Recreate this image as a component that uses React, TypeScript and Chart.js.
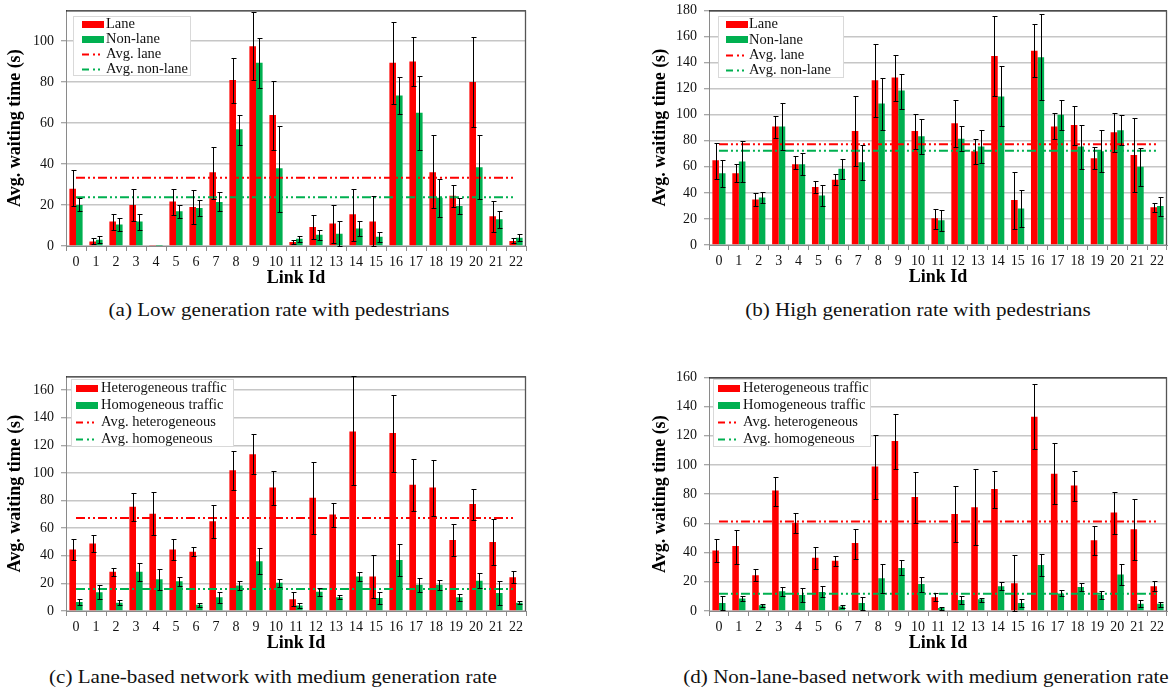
import React, { useEffect, useRef } from 'react';
import { Chart, registerables } from 'chart.js';

Chart.register(...registerables);

const SERIF = "'Liberation Serif', 'Times New Roman', serif";
Chart.defaults.font.family = SERIF;

// ---------- data ----------
const linkIds = ['0','1','2','3','4','5','6','7','8','9','10','11','12','13','14','15','16','17','18','19','20','21','22'];

// (a) low generation rate with pedestrians
const aLane = [28, 2.2, 12, 20, 0.3, 21.7, 19, 36, 81, 97.5, 64, 2, 9.3, 11, 15.5, 12, 89.5, 90, 36, 24.5, 80, 14.5, 2.5];
const aLaneHi = [37, 4, 15.5, 28, null, 28, 27.5, 48.5, 92, 114, 80.5, 3, 15, 20, 28, 24.5, 109.5, 102, 54, 30, 102, 22, 4];
const aLaneLo = [19.5, 1, 8, 12, null, 15, 10.5, 23, 70, 81, 47, 1, 3.5, 1.5, 2.5, 0, 69.5, 78, 18.5, 19, 58, 7, 1.5];
const aNonLane = [20, 3, 10.5, 12, 0.1, 17, 18.5, 21.5, 57, 89.5, 38, 3.5, 5.5, 6, 8.5, 4.5, 73.5, 65, 23.5, 19.5, 38.5, 13, 4];
const aNonLaneHi = [23.5, 5, 13.5, 15.5, null, 20, 22.5, 26.5, 64, 101.5, 58.5, 5, 8, 12, 12, 7, 82.5, 83, 32.5, 23.5, 54, 17, 6];
const aNonLaneLo = [17, 1.5, 7.5, 8, null, 13.5, 14.5, 17, 49.5, 77, 16.5, 2, 3, 0, 5, 2, 64.5, 47, 14, 15.5, 23, 9, 2.5];
const aAvgLane = 33.3;
const aAvgNonLane = 23.8;

// (b) high generation rate with pedestrians
const bLane = [65, 55, 35, 91, 62, 44.5, 50, 87.5, 126.5, 128.5, 87.5, 20.5, 93.5, 72, 145, 34.5, 149, 91, 92, 66.5, 86.5, 69, 29];
const bLaneHi = [78, 62.5, 40, 99, 68, 49, 54.5, 114, 154, 146, 100.5, 28, 111.5, 81.5, 176, 56, 169.5, 101.5, 106.5, 75, 101, 97.5, 32.5];
const bLaneLo = [51, 48, 30, 82, 58, 40, 46, 60.5, 98.5, 110.5, 73.5, 12, 75.5, 62.5, 114.5, 12.5, 129, 81, 77, 58, 71.5, 40.5, 25.5];
const bNonLane = [55, 64, 36.5, 91, 62, 38, 58.5, 63.5, 108.5, 118.5, 83.5, 19, 81.5, 75.5, 114, 28, 144, 100, 75.5, 72, 88, 60, 30];
const bNonLaneHi = [65.5, 79.5, 41, 109, 70.5, 46, 66, 76.5, 128.5, 131.5, 97, 26.5, 91, 88, 137, 42.5, 177, 111.5, 92, 88, 99.5, 74.5, 37];
const bNonLaneLo = [44.5, 48, 32, 73, 54, 30, 51, 50, 88.5, 104.5, 69.5, 11, 72, 63, 91, 13.5, 111, 88.5, 58, 56, 76.5, 45.5, 22.5];
const bAvgLane = 77.3;
const bAvgNonLane = 72.3;

// (c) lane-based network, medium generation rate
const cHet = [44.5, 49, 28.5, 75.5, 70.5, 44.5, 43, 65, 102, 113.5, 89.5, 8.5, 82, 70, 130, 25, 129, 91.5, 89.5, 51.5, 77.5, 50, 24.5];
const cHetHi = [52, 55, 31.5, 85.5, 86, 52, 46.5, 77, 116, 128, 101.5, 13.5, 108, 78.5, 170, 40.5, 156.5, 110.5, 109.5, 63, 88.5, 67, 29];
const cHetLo = [37, 43, 25.5, 65.5, 55, 37, 39.5, 53, 87.5, 99, 77, 3.5, 56, 61, 91, 9.5, 101, 72.5, 68.5, 40, 66, 33, 20];
const cHom = [6.5, 13.5, 6, 28.5, 23, 21.5, 4.5, 10, 18.5, 36, 20.5, 4, 14, 10, 25, 9.5, 37, 19, 19, 10, 22, 13, 6];
const cHomHi = [9, 18.5, 8, 35, 30.5, 25, 6, 14, 22, 45.5, 23.5, 5.5, 16.5, 11.5, 28.5, 13.5, 48.5, 24, 22.5, 12.5, 27.5, 21.5, 7];
const cHomLo = [4, 8.5, 4, 22, 15.5, 18, 3, 6, 15, 26.5, 17.5, 2.5, 11, 8.5, 21.5, 5, 25.5, 13.5, 15, 7.5, 16.5, 4.5, 5];
const cAvgHet = 67.4;
const cAvgHom = 16;

// (d) non-lane-based network, medium generation rate
const dHet = [41.5, 44.5, 24.5, 82.5, 60.5, 36.5, 34.5, 46.5, 99, 116.5, 78, 9.5, 66.5, 71, 83.5, 19, 133, 94, 86, 48.5, 67.5, 56, 17];
const dHetHi = [49, 55.5, 29, 92, 67, 43.5, 37.5, 56, 120.5, 135, 95, 12, 85.5, 97, 96, 38.5, 155.5, 115, 96, 58.5, 81.5, 76.5, 20.5];
const dHetLo = [33.5, 32.5, 20.5, 72, 53.5, 28.5, 31, 35.5, 77, 97, 60.5, 7, 47, 45, 70.5, 0, 111, 73, 75.5, 38.5, 52.5, 35, 13.5];
const dHom = [5.5, 8.5, 4, 13.5, 11, 13, 3, 5.5, 22.5, 29.5, 18.5, 2, 7.5, 8, 17, 5.5, 31.5, 12, 16.5, 11, 25, 5, 5];
const dHomHi = [10, 10, 4.5, 16.5, 16, 17, 4, 9.5, 32.5, 35, 23.5, 2.5, 10.5, 9, 20, 8, 39, 14.5, 19.5, 14, 32.5, 7.5, 6.5];
const dHomLo = [0.5, 7, 3, 10.5, 6.5, 9.5, 2, 1, 12, 24.5, 13, 1, 4.5, 6.5, 14.5, 3, 24, 10, 13.5, 8.5, 17.5, 3, 3];
const dAvgHet = 61.3;
const dAvgHom = 11.9;

const pedNames = ['Lane', 'Non-lane', 'Avg. lane', 'Avg. non-lane'];
const trafficNames = ['Heterogeneous traffic', 'Homogeneous traffic', 'Avg. heterogeneous', 'Avg. homogeneous'];
const yTitle = 'Avg. waiting time (s)';
const xTitle = 'Link Id';

// ---------- styles ----------
const RED = '#ff0000';
const GREEN = '#00b050';
const AXIS = '#8a8a8a';
const GRID = '#c6c6c6';
const LINE_DASH = [9, 3, 2, 3, 2, 3];
const LEGEND_DASH = [7, 4, 2, 3, 2, 4];

type LegendSpec = { dx: number; dy: number; w: number; h: number; first: number; gap: number; sx: number; sw: number; tx: number; };

type PanelSpec = {
  left: number; top: number; width: number; height: number;
  padTop: number; axisW: number; axisH: number; titlePad: number;
  yMax: number;
  names: string[];
  s1: number[]; s1Hi: (number | null)[]; s1Lo: (number | null)[];
  s2: number[]; s2Hi: (number | null)[]; s2Lo: (number | null)[];
  avg1: number; avg2: number;
  legend: LegendSpec;
};

const errorBarPlugin = (series: { hi: (number | null)[]; lo: (number | null)[] }[]) => ({
  id: 'errorBars',
  afterDatasetsDraw(chart: any) {
    const ctx = chart.ctx;
    const y = chart.scales.y;
    ctx.save();
    ctx.strokeStyle = '#000';
    ctx.lineWidth = 1;
    series.forEach((s, di) => {
      const meta = chart.getDatasetMeta(di);
      meta.data.forEach((bar: any, i: number) => {
        const hi = s.hi[i];
        const lo = s.lo[i];
        if (hi == null || lo == null) return;
        const x = Math.round(bar.x) + 0.5;
        const yh = Math.round(y.getPixelForValue(hi)) + 0.5;
        const yl = Math.round(y.getPixelForValue(lo)) + 0.5;
        ctx.beginPath();
        ctx.moveTo(x, yh); ctx.lineTo(x, yl);
        ctx.moveTo(x - 2, yh); ctx.lineTo(x + 3, yh);
        ctx.moveTo(x - 2, yl); ctx.lineTo(x + 3, yl);
        ctx.stroke();
      });
    });
    ctx.restore();
  },
});

const framePlugin = {
  id: 'frame',
  afterDatasetsDraw(chart: any) {
    const { ctx, chartArea } = chart;
    ctx.save();
    ctx.strokeStyle = '#222';
    ctx.lineWidth = 1.3;
    ctx.beginPath();
    ctx.moveTo(chartArea.left, chartArea.top + 0.5);
    ctx.lineTo(chartArea.right, chartArea.top + 0.5);
    ctx.stroke();
    ctx.strokeStyle = '#555';
    ctx.beginPath();
    ctx.moveTo(chartArea.right - 0.5, chartArea.top);
    ctx.lineTo(chartArea.right - 0.5, chartArea.bottom);
    ctx.stroke();
    ctx.restore();
  },
};

const legendPlugin = (spec: LegendSpec) => ({
  id: 'boxLegend',
  afterDraw(chart: any) {
    const { ctx, chartArea } = chart;
    const bx = Math.round(chartArea.left + spec.dx);
    const by = Math.round(chartArea.top + spec.dy);
    ctx.save();
    ctx.fillStyle = '#fff';
    ctx.fillRect(bx, by, spec.w, spec.h);
    ctx.strokeStyle = '#d9d9d9';
    ctx.lineWidth = 1;
    ctx.strokeRect(bx + 0.5, by + 0.5, spec.w, spec.h);
    ctx.font = `14.5px ${SERIF}`;
    ctx.textBaseline = 'middle';
    chart.data.datasets.forEach((ds: any, k: number) => {
      const cy = by + spec.first + k * spec.gap;
      const sx = bx + spec.sx;
      if (ds.type === 'bar') {
        ctx.fillStyle = ds.backgroundColor;
        ctx.fillRect(sx, Math.round(cy - 3.5), spec.sw, 7);
      } else {
        ctx.strokeStyle = ds.borderColor;
        ctx.lineWidth = 2;
        ctx.setLineDash(LEGEND_DASH);
        ctx.beginPath();
        ctx.moveTo(sx, Math.round(cy) + 0.5);
        ctx.lineTo(sx + spec.sw, Math.round(cy) + 0.5);
        ctx.stroke();
        ctx.setLineDash([]);
      }
      ctx.fillStyle = '#111';
      ctx.fillText(ds.label, bx + spec.tx, cy + 0.5);
    });
    ctx.restore();
  },
});

function PanelChart({ p }: { p: PanelSpec }) {
  const ref = useRef<HTMLCanvasElement | null>(null);
  useEffect(() => {
    if (!ref.current) return;
    const chart = new Chart(ref.current, {
      type: 'bar',
      data: {
        labels: linkIds,
        datasets: [
          { type: 'bar', label: p.names[0], data: p.s1, backgroundColor: RED, borderWidth: 0, order: 1, categoryPercentage: 0.66, barPercentage: 1 },
          { type: 'bar', label: p.names[1], data: p.s2, backgroundColor: GREEN, borderWidth: 0, order: 1, categoryPercentage: 0.66, barPercentage: 1 },
          { type: 'line', label: p.names[2], data: linkIds.map(() => p.avg1), borderColor: RED, backgroundColor: RED, borderWidth: 2, borderDash: LINE_DASH, pointRadius: 0, fill: false, order: 0 },
          { type: 'line', label: p.names[3], data: linkIds.map(() => p.avg2), borderColor: GREEN, backgroundColor: GREEN, borderWidth: 2, borderDash: LINE_DASH, pointRadius: 0, fill: false, order: 0 },
        ] as any,
      },
      options: {
        responsive: false,
        animation: false,
        devicePixelRatio: 1,
        layout: { padding: { top: p.padTop, left: 0, right: 2, bottom: 0 } },
        plugins: { legend: { display: false }, tooltip: { enabled: false } },
        scales: {
          x: {
            offset: true,
            grid: { display: true, offset: true, drawOnChartArea: false, drawTicks: true, tickLength: 5, color: AXIS, lineWidth: 1 },
            border: { display: true, color: AXIS, width: 1 },
            ticks: { font: { size: 14 }, color: '#111', padding: 3, maxRotation: 0, autoSkip: false },
            title: { display: true, text: xTitle, font: { size: 18, weight: 'bold' }, color: '#000', padding: { top: 0, bottom: 2 } },
            afterFit: (s: any) => { s.height = p.axisH; },
          },
          y: {
            min: 0,
            max: p.yMax,
            ticks: { stepSize: 20, includeBounds: false, font: { size: 14 }, color: '#111', padding: 7 },
            grid: { color: GRID, lineWidth: 1.5, tickColor: AXIS, tickLength: 5, tickWidth: 1 },
            border: { color: AXIS, width: 1 },
            title: { display: true, text: yTitle, font: { size: 18, weight: 'bold' }, color: '#000', padding: { top: p.titlePad, bottom: 0 } },
            afterFit: (s: any) => { s.width = p.axisW; },
          },
        },
      } as any,
      plugins: [
        framePlugin,
        errorBarPlugin([{ hi: p.s1Hi, lo: p.s1Lo }, { hi: p.s2Hi, lo: p.s2Lo }]),
        legendPlugin(p.legend),
      ],
    });
    return () => chart.destroy();
  }, [p]);
  return (
    <canvas
      ref={ref}
      width={p.width}
      height={p.height}
      style={{ position: 'absolute', left: p.left, top: p.top, width: p.width, height: p.height }}
    />
  );
}

const panels: PanelSpec[] = [
  {
    left: 0, top: -5, width: 528, height: 296, padTop: 12, axisW: 66, axisH: 45, titlePad: 5, yMax: 115,
    names: pedNames, s1: aLane, s1Hi: aLaneHi, s1Lo: aLaneLo, s2: aNonLane, s2Hi: aNonLaneHi, s2Lo: aNonLaneLo,
    avg1: aAvgLane, avg2: aAvgNonLane,
    legend: { dx: 7, dy: 6, w: 117, h: 59, first: 8, gap: 15, sx: 9, sw: 22, tx: 33 },
  },
  {
    left: 640, top: -5, width: 529, height: 295, padTop: 12, axisW: 69, axisH: 45, titlePad: 10, yMax: 180,
    names: pedNames, s1: bLane, s1Hi: bLaneHi, s1Lo: bLaneLo, s2: bNonLane, s2Hi: bNonLaneHi, s2Lo: bNonLaneLo,
    avg1: bAvgLane, avg2: bAvgNonLane,
    legend: { dx: 9, dy: 6, w: 125, h: 61, first: 8, gap: 15.3, sx: 8, sw: 22, tx: 31 },
  },
  {
    left: 0, top: 361, width: 528, height: 295, padTop: 12, axisW: 66, axisH: 45, titlePad: 5, yMax: 170,
    names: trafficNames, s1: cHet, s1Hi: cHetHi, s1Lo: cHetLo, s2: cHom, s2Hi: cHomHi, s2Lo: cHomLo,
    avg1: cAvgHet, avg2: cAvgHom,
    legend: { dx: 5, dy: 3, w: 162, h: 67, first: 9, gap: 17, sx: 5, sw: 22, tx: 30 },
  },
  {
    left: 640, top: 362, width: 529, height: 294, padTop: 12, axisW: 69, axisH: 45, titlePad: 10, yMax: 160,
    names: trafficNames, s1: dHet, s1Hi: dHetHi, s1Lo: dHetLo, s2: dHom, s2Hi: dHomHi, s2Lo: dHomLo,
    avg1: dAvgHet, avg2: dAvgHom,
    legend: { dx: 4, dy: 2, w: 157, h: 67, first: 9, gap: 17, sx: 5, sw: 22, tx: 30 },
  },
];

const captions = [
  { text: '(a) Low generation rate with pedestrians', cx: 279, cy: 310 },
  { text: '(b) High generation rate with pedestrians', cx: 918, cy: 310 },
  { text: '(c) Lane-based network with medium generation rate', cx: 273, cy: 677 },
  { text: '(d) Non-lane-based network with medium generation rate', cx: 926, cy: 677 },
];

export default function App() {
  return (
    <div style={{ position: 'absolute', left: 0, top: 0, width: 1170, height: 688, background: '#fff', overflow: 'hidden', fontFamily: SERIF }}>
      {panels.map((p, i) => <PanelChart key={i} p={p} />)}
      {captions.map((c, i) => (
        <div
          key={'c' + i}
          style={{ position: 'absolute', left: c.cx, top: c.cy - 11, transform: 'translateX(-50%) scaleX(1.08)', whiteSpace: 'nowrap', fontSize: 19.5, lineHeight: '22px', color: '#111' }}
        >
          {c.text}
        </div>
      ))}
    </div>
  );
}
